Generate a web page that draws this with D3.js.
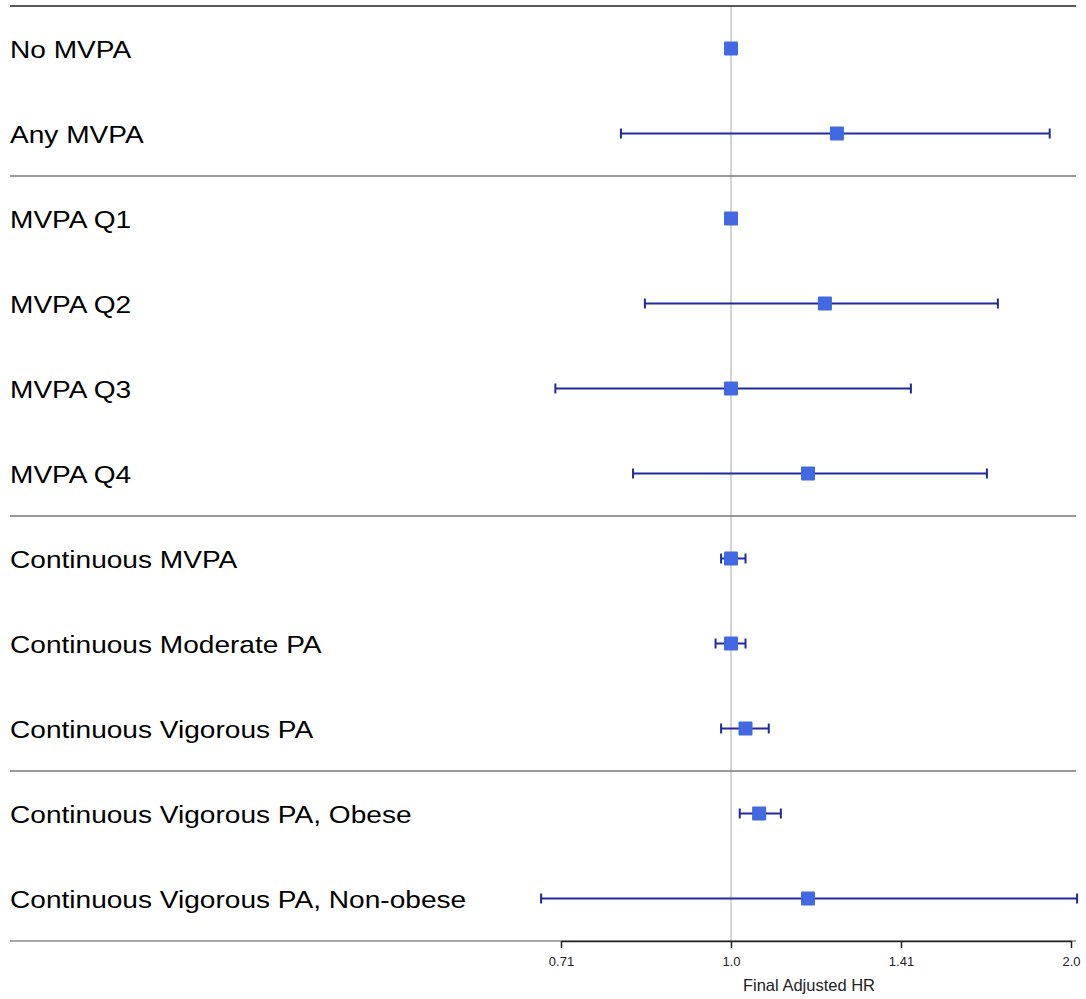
<!DOCTYPE html>
<html><head><meta charset="utf-8">
<script src="https://cdn.jsdelivr.net/npm/d3@7"></script>
<style>body{margin:0;background:#fff}svg{display:block}</style>
</head><body>
<svg id="c" width="1086" height="999"></svg>
<script>
const labels = ["No MVPA","Any MVPA","MVPA Q1","MVPA Q2","MVPA Q3","MVPA Q4","Continuous MVPA","Continuous Moderate PA","Continuous Vigorous PA","Continuous Vigorous PA, Obese","Continuous Vigorous PA, Non-obese"];
const hr    = [1.0, 1.241, 1.0, 1.211, 1.0, 1.170, 1.0, 1.0, 1.030, 1.059, 1.170];
const lower = [null, 0.799, null, 0.839, 0.699, 0.819, 0.980, 0.969, 0.980, 1.018, 0.679];
const upper = [null, 1.915, null, 1.723, 1.443, 1.685, 1.030, 1.030, 1.080, 1.107, 2.025];
const groupBreaksAfter = ["Any MVPA","MVPA Q4","Continuous Vigorous PA"];
const tickValues = [Math.SQRT1_2, 1, Math.SQRT2, 2];
const tickLabels = ["0.71","1.0","1.41","2.0"];
const xTitle = "Final Adjusted HR";

(function(){
const svg = d3.select("#c");
const L = 10, R = 1076, T = 6, B = 941;
const x = d3.scaleLog().base(2).domain([Math.SQRT1_2, 2]).range([561, 1071]);
const y = d3.scaleBand().domain(labels).range([T, B]).paddingInner(0).paddingOuter(0);
const cy = d => y(d) + y.bandwidth()/2;
const font = "Liberation Sans, Arial, sans-serif";

svg.append("line").attr("x1", x(1)).attr("x2", x(1)).attr("y1", T).attr("y2", B)
  .attr("stroke", "#d4d4d4").attr("stroke-width", 2);

svg.append("line").attr("x1", L).attr("x2", R).attr("y1", T).attr("y2", T)
  .attr("stroke", "#222").attr("stroke-width", 1.5);
groupBreaksAfter.forEach(l => {
  const yy = y(l) + y.bandwidth();
  svg.append("line").attr("x1", L).attr("x2", R).attr("y1", yy).attr("y2", yy)
    .attr("stroke", "#777").attr("stroke-width", 1.3);
});

svg.append("g").selectAll("text").data(labels).join("text")
  .attr("transform", d => `translate(${L},${cy(d) + 9}) scale(1.17,1)`)
  .attr("font-family", font).attr("font-size", 24).attr("fill", "#000")
  .text(d => d);

const rows = labels.map((l, i) => ({l, hr: hr[i], lo: lower[i], hi: upper[i]}));
const ci = rows.filter(r => r.lo != null);
const cig = svg.append("g").attr("stroke", "#1f2a9c").attr("stroke-width", 2);
cig.selectAll(".ci").data(ci).join("line")
  .attr("x1", d => x(d.lo)).attr("x2", d => x(d.hi)).attr("y1", d => cy(d.l)).attr("y2", d => cy(d.l));
cig.selectAll(".capl").data(ci).join("line")
  .attr("x1", d => x(d.lo)).attr("x2", d => x(d.lo)).attr("y1", d => cy(d.l)-5).attr("y2", d => cy(d.l)+5);
cig.selectAll(".caph").data(ci).join("line")
  .attr("x1", d => x(d.hi)).attr("x2", d => x(d.hi)).attr("y1", d => cy(d.l)-5).attr("y2", d => cy(d.l)+5);

const s = 14;
svg.append("g").selectAll("rect").data(rows).join("rect")
  .attr("x", d => x(d.hr) - s/2).attr("y", d => cy(d.l) - s/2)
  .attr("width", s).attr("height", s).attr("rx", 1)
  .attr("fill", "#4169e1");

svg.append("line").attr("x1", L).attr("x2", R).attr("y1", B).attr("y2", B)
  .attr("stroke", "#888").attr("stroke-width", 1.5);
const ax = svg.append("g").attr("transform", `translate(0,${B})`)
  .call(d3.axisBottom(x).tickValues(tickValues).tickFormat((d, i) => tickLabels[i]).tickSize(7).tickSizeOuter(0).tickPadding(9));
ax.select(".domain").attr("stroke", "#222").attr("stroke-width", 1.5);
ax.selectAll(".tick line").attr("stroke", "#222").attr("stroke-width", 1.5);
ax.selectAll(".tick text").attr("font-family", font).attr("font-size", 13).attr("fill", "#222");

svg.append("text").attr("x", 809).attr("y", 991).attr("text-anchor", "middle")
  .attr("font-family", font).attr("font-size", 16.5).attr("fill", "#222")
  .text(xTitle);
})();
</script>
</body></html>
